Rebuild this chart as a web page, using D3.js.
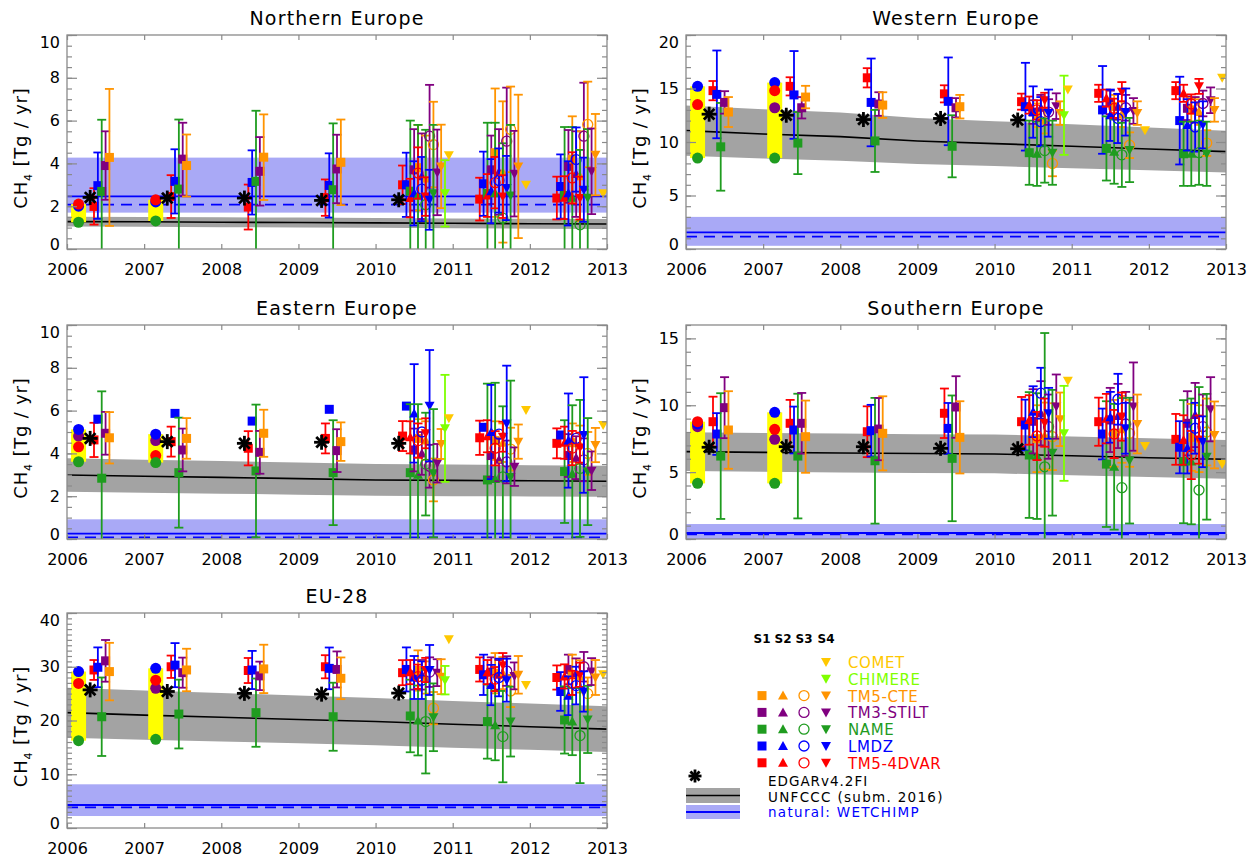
<!DOCTYPE html>
<html>
<head>
<meta charset="utf-8">
<script src="https://cdn.jsdelivr.net/npm/d3@7"></script>
<style>
  body { margin: 0; background: #fff; }
  text { font-family: "DejaVu Sans", sans-serif; }
</style>
</head>
<body>
<svg id="chart" width="1260" height="859"></svg>
<script>
// ---- data ----
const years = [2006, 2007, 2008, 2009, 2010, 2011, 2012, 2013];
const regions = ["Northern Europe", "Western Europe", "Eastern Europe", "Southern Europe", "EU-28"];
const models = ["TM5-4DVAR", "LMDZ", "NAME", "TM3-STILT", "TM5-CTE", "CHIMERE", "COMET"];
const modelColors = ["#ff0000", "#0000ff", "#1f9c1f", "#800080", "#ff9400", "#7fff00", "#ffc800"];
const yMax = [10, 20, 10, 16, 40];
const yMajor = [2, 5, 2, 5, 10];
const yMinor = [0.5, 1, 0.5, 1, 1];

// UNFCCC (subm. 2016), one value per year 2006..2013, and half width of grey band
const unfccc = [
  [1.28, 1.27, 1.25, 1.24, 1.22, 1.20, 1.18, 1.17],
  [11.06, 10.75, 10.50, 10.10, 9.85, 9.60, 9.35, 9.10],
  [2.99, 2.93, 2.88, 2.82, 2.76, 2.74, 2.72, 2.70],
  [6.53, 6.48, 6.43, 6.39, 6.36, 6.22, 6.08, 5.96],
  [21.46, 21.0, 20.6, 20.2, 19.8, 19.3, 18.85, 18.4]
];
const unfcccUnc = [
  [0.23, 0.23, 0.23, 0.23, 0.23, 0.23, 0.23, 0.23],
  [2.35, 2.3, 2.25, 2.15, 2.1, 2.05, 2.0, 1.95],
  [0.78, 0.77, 0.76, 0.75, 0.74, 0.74, 0.73, 0.72],
  [1.45, 1.45, 1.45, 1.45, 1.45, 1.45, 1.45, 1.45],
  [4.65, 4.6, 4.5, 4.45, 4.4, 4.35, 4.3, 4.25]
];
// natural WETCHIMP: mean, median, low, high
const natural = [
  [2.46, 2.07, 1.70, 4.27],
  [1.55, 1.15, 0.30, 3.00],
  [0.25, 0.08, -0.6, 0.92],
  [0.45, 0.35, -0.1, 1.12],
  [4.28, 3.85, 2.23, 8.13]
];
// EDGARv4.2FI 2006..2010
const edgar = [
  [2.41, 2.38, 2.38, 2.27, 2.30],
  [12.6, 12.5, 12.1, 12.2, 12.05],
  [4.70, 4.55, 4.47, 4.52, 4.47],
  [6.86, 6.90, 6.90, 6.78, 6.75],
  [25.7, 25.4, 25.05, 24.9, 25.1]
];
// filled circles on yellow range (2006, 2007): TM5-4DVAR, LMDZ, NAME, TM3-STILT
const circles2006 = [
  [2.10, 2.00, 1.25, null],
  [13.5, 15.2, 8.5, null],
  [4.31, 5.12, 3.61, 4.81],
  [8.77, 8.60, 4.16, 8.40],
  [26.9, 29.1, 16.25, null]
];
const circles2007 = [
  [2.30, 2.20, 1.31, null],
  [14.8, 15.55, 8.5, 13.2],
  [3.90, 4.90, 3.57, 4.60],
  [8.20, 9.47, 4.16, 7.45],
  [27.5, 29.7, 16.5, 26.0]
];

// S1 2006..2012 per region, per model (TM5-4DVAR, LMDZ, NAME, TM3-STILT, TM5-CTE)
const s1Val = [
  [[1.99, 2.45, 1.96, 2.40, 3.00, 2.33, 2.38], [2.96, 3.16, 3.11, 2.97, 3.00, 3.05, 2.92], [2.69, 2.80, 3.16, 2.77, 2.70, 2.60, 2.50], [3.90, 4.20, 3.63, 3.74, 3.70, 3.70, 3.86], [4.28, 3.90, 4.29, 4.05, 3.80, 4.50, 4.20]],
  [[14.8, 15.2, 16.0, 14.5, 13.77, 14.55, 14.8], [14.45, 14.4, 13.7, 13.8, 13.3, 13.0, 12.0], [9.55, 9.9, 10.1, 9.6, 9.0, 9.4, 8.9], [13.7, 13.2, 13.55, 13.2, 12.8, 13.7, 13.15], [12.8, 14.2, 13.45, 13.3, 12.5, 13.3, 13.0]],
  [[4.63, 4.55, 4.24, 4.70, 4.81, 4.73, 4.47], [5.60, 5.87, 5.51, 6.06, 6.21, 5.22, 4.86], [2.84, 3.10, 3.18, 3.10, 3.10, 2.76, 3.15], [4.94, 4.16, 4.05, 4.13, 4.16, 3.90, 3.90], [4.73, 4.70, 4.94, 4.55, 4.70, 4.60, 4.50]],
  [[8.77, 8.65, 8.02, 9.40, 8.77, 8.77, 7.45], [7.85, 8.15, 8.10, 8.27, 8.52, 7.85, 6.86], [6.20, 6.20, 5.85, 6.03, 6.28, 5.60, 5.78], [9.82, 8.65, 8.22, 9.87, 8.80, 8.90, 8.65], [8.15, 7.65, 7.90, 7.60, 7.50, 7.90, 7.60]],
  [[29.4, 30.0, 29.3, 30.0, 28.9, 29.5, 28.0], [29.9, 30.3, 29.4, 29.7, 29.5, 28.5, 25.4], [20.7, 21.2, 21.46, 20.7, 20.84, 19.8, 20.1], [31.1, 28.9, 28.3, 29.5, 28.5, 29.0, 29.5], [29.1, 29.4, 29.6, 27.85, 29.3, 28.8, 28.5]]
];
const s1Err = [
  [[0.85, 1.0, 1.05, 0.85, 0.9, 1.0, 1.0], [1.55, 1.5, 1.5, 1.5, 1.5, 1.5, 1.5], [3.35, 3.25, 3.3, 3.1, 3.3, 3.3, 3.2], [1.6, 1.7, 1.6, 1.6, 1.9, 1.6, 1.7], [3.2, 1.45, 2.0, 2.0, 2.0, 3.0, 2.0]],
  [[0.9, 0.85, 0.9, 0.8, 0.75, 0.8, 0.8], [4.1, 4.1, 4.1, 4.1, 4.1, 4.1, 4.1], [4.1, 2.9, 2.9, 2.9, 3.0, 3.0, 3.0], [1.05, 1.0, 1.1, 0.9, 1.1, 1.1, 1.1], [1.4, 1.05, 1.2, 1.1, 1.1, 1.1, 1.1]],
  [[0.8, 0.7, 0.8, 0.7, 0.7, 0.8, 0.7], [0, 0, 0, 0, 0, 0, 0], [4.06, 2.57, 3.1, 2.45, 3.2, 4.5, 2.4], [1.0, 1.0, 1.0, 1.0, 1.0, 1.0, 1.0], [1.2, 0.95, 1.1, 0.9, 0.9, 0.9, 0.9]],
  [[1.87, 1.75, 1.9, 1.85, 1.85, 1.8, 1.9], [1.56, 1.75, 1.93, 1.9, 1.9, 1.9, 1.95], [4.7, 4.66, 4.7, 4.7, 4.7, 4.7, 4.6], [2.28, 2.27, 2.33, 2.3, 2.4, 2.4, 2.4], [2.9, 2.7, 2.77, 2.7, 2.5, 2.5, 2.5]],
  [[1.85, 2.08, 2.33, 2.15, 2.33, 2.25, 2.25], [3.7, 4.1, 3.55, 3.88, 4.1, 3.75, 3.6], [7.3, 6.4, 6.35, 6.33, 6.75, 6.9, 6.25], [3.88, 2.8, 2.65, 3.35, 2.75, 2.75, 2.75], [5.35, 3.95, 4.5, 3.88, 3.75, 3.75, 3.75]]
];
// S2, S3, S4 2010..2012 per region, per model
const s2Val = [
  [[2.38, 2.50, 2.40], [2.60, 2.70, 2.60], [2.50, 2.60, 2.40], [3.40, 3.60, 3.50], [3.30, 3.60, 3.40]],
  [[13.45, 14.1, 14.55], [12.8, 12.5, 11.6], [8.9, 9.1, 8.9], [13.2, 13.3, 13.0], [12.0, 12.6, 12.8]],
  [[4.75, 4.80, 4.50], [5.87, 5.00, 4.60], [3.00, 2.80, 3.05], [4.00, 3.70, 3.80], [4.60, 4.50, 4.40]],
  [[8.90, 9.00, 7.40], [9.52, 9.10, 6.80], [6.20, 5.40, 5.80], [9.40, 9.20, 9.27], [7.70, 8.20, 7.50]],
  [[29.0, 29.0, 28.2], [28.0, 26.6, 24.6], [20.0, 19.1, 19.8], [28.5, 28.5, 28.8], [28.0, 28.8, 28.2]]
];
const s2Err = [
  [[0.9, 1.0, 1.0], [1.5, 1.5, 1.5], [3.3, 3.3, 3.3], [2.0, 2.0, 2.0], [2.0, 3.3, 2.1]],
  [[0.8, 0.8, 0.8], [2.4, 2.4, 2.4], [3.0, 3.0, 3.0], [1.2, 1.2, 1.2], [1.2, 1.2, 1.2]],
  [[0.75, 0.75, 0.75], [2.3, 2.2, 2.2], [3.3, 4.5, 3.2], [1.0, 1.0, 1.0], [0.9, 0.9, 0.9]],
  [[1.85, 1.85, 1.85], [1.9, 1.9, 1.9], [4.7, 4.7, 4.7], [2.4, 2.4, 2.4], [2.5, 2.5, 2.5]],
  [[2.25, 2.25, 2.25], [4.0, 3.75, 3.6], [6.5, 6.5, 6.25], [2.75, 2.75, 2.75], [3.0, 3.0, 3.0]]
];
const s3Val = [
  [[3.55, 3.10, 3.32], [2.80, 3.20, 4.18], [2.07, 1.44, 1.13], [5.27, 5.04, 5.27], [4.88, 5.59, 5.82]],
  [[13.0, 13.15, 13.55], [11.9, 12.2, 11.4], [9.2, 8.8, 9.0], [12.8, 13.2, 13.6], [8.0, 9.7, 9.9]],
  [[4.60, 4.24, 4.25], [5.00, 4.90, 4.70], [3.50, 2.90, 3.30], [3.40, 3.60, 3.70], [2.76, 4.20, 4.00]],
  [[7.70, 7.85, 6.28], [10.90, 10.45, 8.28], [5.40, 3.84, 3.66], [8.40, 8.60, 8.40], [7.65, 7.90, 8.00]],
  [[28.15, 27.7, 27.0], [27.5, 28.0, 26.5], [19.8, 17.0, 17.2], [29.0, 29.2, 30.0], [22.3, 25.5, 25.0]]
];
const s3Err = [
  [[1.2, 1.2, 1.2], [1.5, 1.5, 1.5], [3.5, 3.5, 3.5], [2.4, 2.5, 2.5], [2.0, 2.0, 2.0]],
  [[0.9, 0.9, 0.9], [2.3, 2.3, 2.3], [3.0, 3.0, 3.0], [1.2, 1.2, 1.2], [1.2, 1.2, 1.2]],
  [[0.8, 0.8, 0.8], [0, 0, 0], [2.4, 3.3, 3.2], [1.0, 1.0, 1.0], [1.0, 1.0, 1.0]],
  [[1.8, 1.8, 1.8], [1.9, 1.9, 1.9], [10.0, 6.7, 7.7], [2.4, 2.4, 2.4], [2.5, 2.5, 2.5]],
  [[2.25, 2.25, 2.25], [3.5, 3.5, 3.5], [9.65, 8.5, 8.85], [2.75, 2.75, 2.75], [3.0, 3.0, 3.0]]
];
const s4Val = [
  [[2.45, 2.45, 2.38], [2.30, 2.85, 2.77], [2.60, 2.50, 2.40], [3.58, 3.52, 3.63], [3.86, 3.86, 4.41]],
  [[13.9, 14.7, 15.2], [12.7, 12.8, 11.6], [9.0, 9.25, 8.9], [13.35, 12.9, 13.9], [12.7, 12.7, 13.0]],
  [[4.94, 4.78, 4.27], [6.23, 5.40, 4.86], [3.07, 2.90, 3.15], [3.54, 3.38, 3.19], [4.44, 4.55, 4.39]],
  [[8.70, 9.15, 7.43], [9.40, 8.28, 7.27], [6.45, 5.86, 6.15], [9.90, 9.90, 9.70], [8.95, 8.60, 7.78]],
  [[29.4, 30.3, 28.5], [29.4, 27.5, 25.4], [20.6, 19.8, 20.2], [28.9, 28.3, 29.1], [28.15, 28.5, 28.0]]
];
const s4Err = [
  [[0.9, 1.0, 1.0], [1.4, 1.5, 1.5], [3.2, 3.3, 3.2], [2.0, 2.0, 2.0], [1.95, 3.35, 1.9]],
  [[0.7, 0.9, 0.7], [2.2, 2.2, 2.2], [3.0, 3.0, 3.0], [1.2, 1.2, 1.2], [1.1, 1.1, 1.1]],
  [[0.7, 0.7, 0.7], [2.6, 2.7, 2.7], [3.0, 4.5, 2.5], [0.9, 0.9, 0.9], [0.7, 0.8, 0.8]],
  [[1.8, 1.8, 1.8], [1.9, 1.9, 1.9], [4.7, 4.7, 4.7], [2.4, 3.3, 2.4], [2.0, 2.2, 2.5]],
  [[2.25, 2.25, 2.25], [4.65, 4.0, 3.75], [6.3, 6.5, 6.25], [2.5, 2.5, 2.5], [3.25, 3.5, 3.25]]
];
// CHIMERE S4 2010 (value, error) and COMET S4 2010..2012
const chimere = [[2.60, 1.55], [12.5, 3.7], [5.17, 2.5], [7.9, 3.55], [27.5, 2.65]];
const comet = [[4.38, 3.00, 2.60], [14.9, 11.1, 16.0], [5.64, 6.03, 5.33], [11.84, 6.95, 5.60], [35.1, 26.6, 28.6]];

// ---- layout ----
const layout = [
  { x0: 67, x1: 607, y0: 35, y1: 249 },
  { x0: 686, x1: 1226, y0: 35, y1: 249 },
  { x0: 67, x1: 607, y0: 325, y1: 539 },
  { x0: 686, x1: 1226, y0: 325, y1: 539 },
  { x0: 67, x1: 607, y0: 613, y1: 828 }
];
const frameColor = "#8a8a8a";
const shapes = ["M-4.5,-4.5H4.5V4.5H-4.5Z", "M0,-5L5,4L-5,4Z", null, "M0,5L5,-4L-5,-4Z"];

const svg = d3.select("#chart");
const defs = svg.append("defs");

function marker(g, shape, cx, cy, color) {
  if (shape === 2) {
    g.append("circle").attr("cx", cx).attr("cy", cy).attr("r", 5)
      .attr("fill", "none").attr("stroke", color).attr("stroke-width", 1.3);
  } else {
    g.append("path").attr("d", shapes[shape])
      .attr("transform", `translate(${cx},${cy})`).attr("fill", color);
  }
}

function asterisk(g, cx, cy, r) {
  [0, 45, 90, 135].forEach((a) => {
    const dx = r * Math.cos(a * Math.PI / 180);
    const dy = r * Math.sin(a * Math.PI / 180);
    g.append("line")
      .attr("x1", cx - dx).attr("y1", cy - dy).attr("x2", cx + dx).attr("y2", cy + dy)
      .attr("stroke", "#000").attr("stroke-width", 2.8);
  });
}

function inversionPoints(r) {
  const pts = [];
  for (let m = 0; m < 5; m++) {
    s1Val[r][m].forEach((v, i) => pts.push({ year: years[i], s: 0, m, v, e: s1Err[r][m][i] }));
  }
  [[s2Val, s2Err], [s3Val, s3Err], [s4Val, s4Err]].forEach(([vals, errs], k) => {
    for (let m = 0; m < 5; m++) {
      vals[r][m].forEach((v, i) => pts.push({ year: 2010 + i, s: k + 1, m, v, e: errs[r][m][i] }));
    }
  });
  pts.push({ year: 2010, s: 3, m: 5, v: chimere[r][0], e: chimere[r][1] });
  comet[r].forEach((v, i) => pts.push({ year: 2010 + i, s: 3, m: 6, v, e: 0 }));
  return pts;
}

layout.forEach((L, r) => {
  const x = d3.scaleLinear().domain([2006, 2013]).range([L.x0, L.x1]);
  const y = d3.scaleLinear().domain([0, yMax[r]]).range([L.y1, L.y0]);

  defs.append("clipPath").attr("id", "clip" + r)
    .append("rect").attr("x", L.x0).attr("y", L.y0)
    .attr("width", L.x1 - L.x0).attr("height", L.y1 - L.y0);

  const plot = svg.append("g").attr("clip-path", `url(#clip${r})`);

  // natural band
  const nat = natural[r];
  plot.append("rect")
    .attr("x", L.x0).attr("width", L.x1 - L.x0)
    .attr("y", y(nat[3])).attr("height", y(nat[2]) - y(nat[3]))
    .attr("fill", "#a9a9f6");

  // UNFCCC band
  const band = d3.area()
    .x((d, i) => x(years[i]))
    .y0((d, i) => y(d - unfcccUnc[r][i]))
    .y1((d, i) => y(d + unfcccUnc[r][i]));
  plot.append("path").datum(unfccc[r]).attr("d", band).attr("fill", "#a3a3a3");

  plot.append("line")
    .attr("x1", L.x0).attr("x2", L.x1).attr("y1", y(nat[0])).attr("y2", y(nat[0]))
    .attr("stroke", "#0000ff").attr("stroke-width", 1.8);
  plot.append("line")
    .attr("x1", L.x0).attr("x2", L.x1).attr("y1", y(nat[1])).attr("y2", y(nat[1]))
    .attr("stroke", "#0000ff").attr("stroke-width", 1.8).attr("stroke-dasharray", "11,7");

  const line = d3.line().x((d, i) => x(years[i])).y((d) => y(d));
  plot.append("path").datum(unfccc[r]).attr("d", line)
    .attr("fill", "none").attr("stroke", "#000").attr("stroke-width", 1.6);

  // yellow range + filled circles (2006, 2007)
  [circles2006[r], circles2007[r]].forEach((vals, k) => {
    const cx = x(2006 + k + 0.15);
    const present = vals.filter((v) => v !== null);
    const top = d3.max(present);
    const bot = d3.min(present);
    plot.append("rect")
      .attr("x", cx - 7.5).attr("width", 15)
      .attr("y", y(top)).attr("height", y(bot) - y(top))
      .attr("fill", "#ffff00");
    [3, 1, 0, 2].forEach((m) => {
      if (vals[m] === null) return;
      plot.append("circle").attr("cx", cx).attr("cy", y(vals[m])).attr("r", 5.5)
        .attr("fill", modelColors[m]);
    });
  });

  // inversions with error bars
  inversionPoints(r).forEach((p) => {
    const cx = x(p.year + 0.35 + 0.1 * p.s + 0.05 * p.m);
    const col = modelColors[p.m];
    if (p.e > 0) {
      const yt = y(p.v + p.e), yb = y(p.v - p.e);
      plot.append("line").attr("x1", cx).attr("x2", cx).attr("y1", yt).attr("y2", yb)
        .attr("stroke", col).attr("stroke-width", 1.8);
      [yt, yb].forEach((yy) => plot.append("line")
        .attr("x1", cx - 4.5).attr("x2", cx + 4.5).attr("y1", yy).attr("y2", yy)
        .attr("stroke", col).attr("stroke-width", 1.8));
    }
    marker(plot, p.s, cx, y(p.v), col);
  });

  // EDGAR
  edgar[r].forEach((v, i) => asterisk(plot, x(years[i] + 0.3), y(v), 7.5));

  // axes
  const ax = svg.append("g");
  const styleAxis = (sel) => {
    sel.select(".domain").remove();
    sel.selectAll(".tick line").attr("stroke", frameColor).attr("stroke-width", 1.2);
    sel.attr("font-size", 16).attr("font-family", "DejaVu Sans").selectAll("text").attr("fill", "#000");
  };
  const majors = d3.range(0, yMax[r] + 1e-6, yMajor[r]);
  const minors = d3.range(0, yMax[r] + 1e-6, yMinor[r]);

  ax.append("g").attr("transform", `translate(${L.x0},0)`)
    .call(d3.axisLeft(y).tickValues(minors).tickSize(-5).tickFormat("")).call(styleAxis);
  ax.append("g").attr("transform", `translate(${L.x1},0)`)
    .call(d3.axisRight(y).tickValues(minors).tickSize(-5).tickFormat("")).call(styleAxis);
  ax.append("g").attr("transform", `translate(${L.x1},0)`)
    .call(d3.axisRight(y).tickValues(majors).tickSize(-10).tickFormat("")).call(styleAxis);
  const yl = ax.append("g").attr("transform", `translate(${L.x0},0)`)
    .call(d3.axisLeft(y).tickValues(majors).tickSize(-10).tickPadding(7).tickFormat(d3.format("d")))
    .call(styleAxis);
  yl.selectAll(".tick text")
    .attr("dy", (d) => (d === yMax[r] ? "0.75em" : d === 0 ? "0.02em" : "0.32em"));

  ax.append("g").attr("transform", `translate(0,${L.y1})`)
    .call(d3.axisBottom(x).tickValues(years).tickSize(-5).tickPadding(15).tickFormat(d3.format("d")))
    .call(styleAxis);
  ax.append("g").attr("transform", `translate(0,${L.y0})`)
    .call(d3.axisTop(x).tickValues(years).tickSize(-5).tickFormat(""))
    .call(styleAxis);

  ax.append("rect").attr("x", L.x0).attr("y", L.y0)
    .attr("width", L.x1 - L.x0).attr("height", L.y1 - L.y0)
    .attr("fill", "none").attr("stroke", frameColor).attr("stroke-width", 1.3);

  // title
  svg.append("text")
    .attr("x", (L.x0 + L.x1) / 2).attr("y", L.y0 - 10)
    .attr("text-anchor", "middle").attr("font-size", 19).attr("letter-spacing", 1.2)
    .text(regions[r]);

  // y label
  const lab = svg.append("text")
    .attr("transform", `translate(${L.x0 - 40},${(L.y0 + L.y1) / 2 + 6}) rotate(-90)`)
    .attr("text-anchor", "middle").attr("font-size", 18).attr("letter-spacing", 0.8);
  lab.append("tspan").text("CH");
  lab.append("tspan").attr("font-size", 11).attr("dy", 5).text("4");
  lab.append("tspan").attr("dy", -5).text(" [Tg / yr]");
});

// ---- legend ----
const lg = svg.append("g");
const colX = [762, 783, 804, 826];
["S1", "S2", "S3", "S4"].forEach((s, i) => {
  lg.append("text").attr("x", colX[i]).attr("y", 643).attr("text-anchor", "middle")
    .attr("font-weight", "bold").attr("font-size", 12).text(s);
});
[6, 5, 4, 3, 2, 1, 0].forEach((m, row) => {
  const cy = 662 + row * 16.8;
  const shown = m >= 5 ? [3] : [0, 1, 2, 3];
  shown.forEach((s) => marker(lg, s, colX[s], cy, modelColors[m]));
  lg.append("text").attr("x", 848).attr("y", cy + 6).attr("fill", modelColors[m])
    .attr("font-size", 15).attr("letter-spacing", 0.6).text(models[m]);
});

asterisk(lg, 695, 776, 6.5);
lg.append("text").attr("x", 768).attr("y", 786).attr("font-size", 13.5).attr("letter-spacing", 1)
  .text("EDGARv4.2FI");

lg.append("rect").attr("x", 686).attr("y", 788).attr("width", 54).attr("height", 15).attr("fill", "#a3a3a3");
lg.append("line").attr("x1", 686).attr("x2", 740).attr("y1", 795.5).attr("y2", 795.5)
  .attr("stroke", "#000").attr("stroke-width", 1.6);
lg.append("text").attr("x", 768).attr("y", 801.5).attr("font-size", 13.5).attr("letter-spacing", 1.3)
  .text("UNFCCC (subm. 2016)");

lg.append("rect").attr("x", 686).attr("y", 805).attr("width", 54).attr("height", 14).attr("fill", "#a9a9f6");
lg.append("line").attr("x1", 686).attr("x2", 740).attr("y1", 812).attr("y2", 812)
  .attr("stroke", "#0000ff").attr("stroke-width", 1.8);
lg.append("text").attr("x", 768).attr("y", 817).attr("font-size", 13.5).attr("letter-spacing", 1.3)
  .attr("fill", "#0000ff").text("natural: WETCHIMP");
</script>
</body>
</html>
